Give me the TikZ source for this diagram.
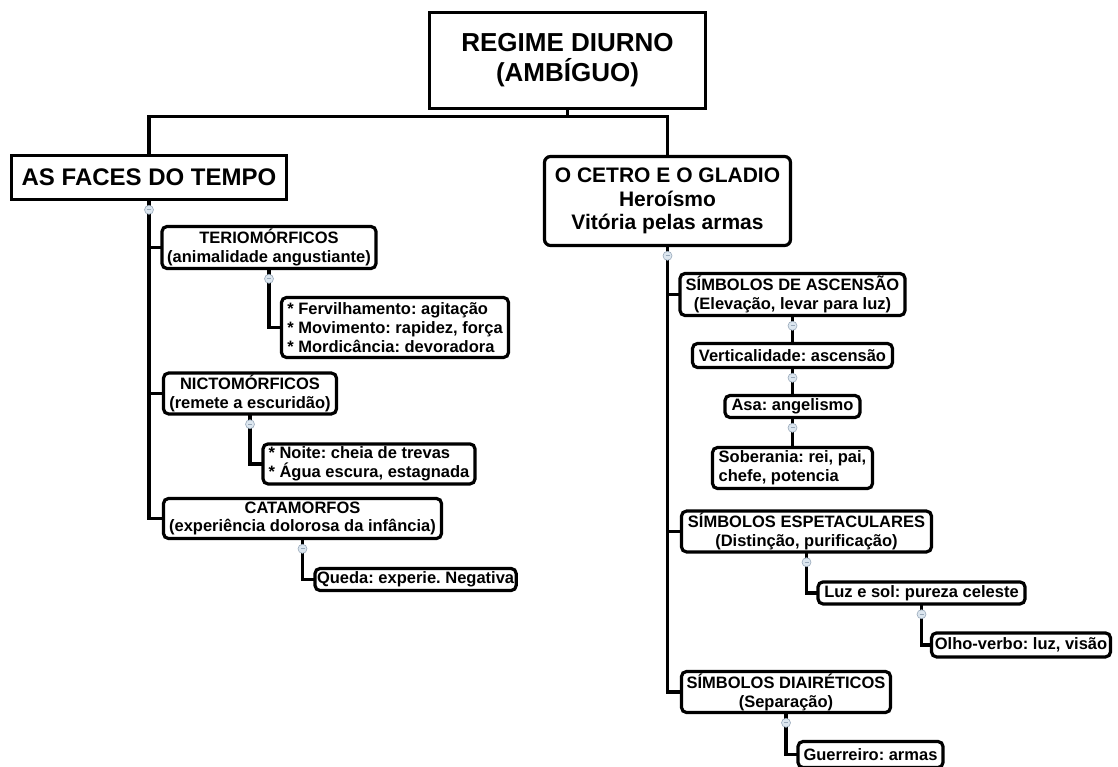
\documentclass[tikz,border=0pt]{standalone}
\usepackage{fontspec}
\setmainfont{Liberation Sans}
\usetikzlibrary{positioning}
\frenchspacing

\definecolor{foldfill}{HTML}{DCE6EF}
\definecolor{foldline}{HTML}{9AAABB}

\tikzset{
  root/.style={draw,line width=3.2pt,outer sep=0pt,align=center,
    font=\bfseries\fontsize{26}{30}\selectfont},
  theme/.style={draw,line width=3.2pt,outer sep=0pt,align=center,
    font=\bfseries\fontsize{21}{23.5}\selectfont},
  leaf/.style={draw,line width=3.2pt,rounded corners=5pt,outer sep=0pt,
    inner sep=2pt,align=center,font=\bfseries\fontsize{16.5}{18.8}\selectfont},
  link/.style={line width=3.2pt},
  elbow/.style={to path={|- (\tikztotarget) \tikztonodes}},
  fold/.style={circle,draw=foldline,fill=foldfill,line width=0.6pt,
    minimum size=9pt,inner sep=0pt,
    path picture={\draw[foldline,line width=0.8pt]
      ([xshift=-2pt]path picture bounding box.center) --
      ([xshift=2pt]path picture bounding box.center);}}
}

\begin{document}
\begin{tikzpicture}[x=1pt,y=-1pt,node distance=28pt]
  \path[fill=white,use as bounding box] (0,0) rectangle (1118,767);

  % root and the two themes
  \node[root,minimum width=276pt,minimum height=96pt] (regime) at (567.5,60.5)
    {REGIME DIURNO\\(AMBÍGUO)};
  \node[root,font=\bfseries\fontsize{24}{28}\selectfont,
    minimum width=275pt,minimum height=44pt] (faces) at (149,177.5)
    {AS FACES DO TEMPO};
  \node[theme,rounded corners=6pt,minimum width=246pt,minimum height=89pt]
    (cetro) at (667.5,201) {O CETRO E O GLADIO\\Heroísmo\\Vitória pelas armas};

  % as faces do tempo
  \node[leaf,minimum width=214pt,minimum height=42pt,anchor=north west]
    (terio) [below right=27pt and 13pt of faces.south]
    {TERIOMÓRFICOS\\(animalidade angustiante)};
  \node[leaf,align=left,minimum width=227pt,minimum height=60pt]
    (ferv) [below right=29pt and 12.5pt of terio.south]
    {* Fervilhamento: agitação\\* Movimento: rapidez, força\\* Mordicância: devoradora};
  \node[leaf,minimum width=173pt,minimum height=40pt] (nicto) at (250,393.5)
    {NICTOMÓRFICOS\\(remete a escuridão)};
  \node[leaf,align=left,minimum width=212pt,minimum height=40pt]
    (noite) [below right=30pt and 13pt of nicto.south]
    {* Noite: cheia de trevas\\* Água escura, estagnada};
  \node[leaf,minimum width=278pt,minimum height=40pt] (catam) at (302.5,518.5)
    {CATAMORFOS\\(experiência dolorosa da infância)};
  \node[leaf,minimum width=200pt,minimum height=22pt]
    (queda) [below right=30pt and 12.5pt of catam.south]
    {Queda: experie. Negativa};

  % o cetro e o gladio
  \node[leaf,minimum width=225pt,minimum height=42pt]
    (ascen) [below right=28pt and 12.5pt of cetro.south]
    {SÍMBOLOS DE ASCENSÃO\\(Elevação, levar para luz)};
  \node[leaf,minimum width=200pt,minimum height=24pt] (verti) [below=of ascen]
    {Verticalidade: ascensão};
  \node[leaf,minimum width=135pt,minimum height=22pt] (asa) [below=of verti]
    {Asa: angelismo};
  \node[leaf,align=left,minimum width=160pt,minimum height=41pt]
    (sober) [below=30pt of asa] {Soberania: rei, pai,\\chefe, potencia};
  \node[leaf,minimum width=250pt,minimum height=40pt] (espet) at (806.5,531.5)
    {SÍMBOLOS ESPETACULARES\\(Distinção, purificação)};
  \node[leaf,minimum width=207pt,minimum height=22pt]
    (luzsol) [below right=30pt and 11.5pt of espet.south]
    {Luz e sol: pureza celeste};
  \node[leaf,minimum width=179pt,minimum height=24pt]
    (olho) [below right=29pt and 10pt of luzsol.south]
    {Olho-verbo: luz, visão};
  \node[leaf,minimum width=209pt,minimum height=41pt] (diair) at (786,692)
    {SÍMBOLOS DIAIRÉTICOS\\(Separação)};
  \node[leaf,minimum width=145pt,minimum height=26pt]
    (guerr) [below right=29pt and 12pt of diair.south]
    {Guerreiro: armas};

  % connectors
  \draw[link] (regime.south) -- ++(0,8) coordinate (split) -| (faces.north);
  \draw[link] (split) -| (cetro.north);
  \path[link]
  (faces.south) edge[elbow] (terio.west)
                edge[elbow] (nicto.west)
                edge[elbow] (catam.west)
  (terio.south) edge[elbow] (ferv.west)
  (nicto.south) edge[elbow] (noite.west)
  (catam.south) edge[elbow] (queda.west)
  (cetro.south) edge[elbow] (ascen.west)
                edge[elbow] (espet.west)
                edge[elbow] (diair.west)
  (ascen) edge (verti)
  (verti) edge (asa)
  (asa)   edge (sober)
  (espet.south)  edge[elbow] (luzsol.west)
  (luzsol.south) edge[elbow] (olho.west)
  (diair.south)  edge[elbow] (guerr.west);

  % fold markers
  \foreach \n in {faces,terio,nicto,catam,cetro,ascen,verti,asa,espet,luzsol,diair}
    \node[fold] (fold-\n) [below=5.5pt of \n.south] {};
\end{tikzpicture}
\end{document}
